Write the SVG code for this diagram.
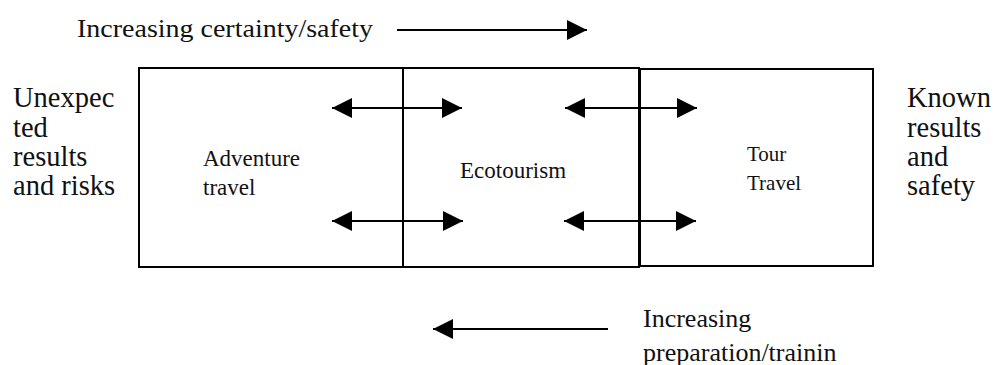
<svg xmlns="http://www.w3.org/2000/svg" width="994" height="365" viewBox="0 0 994 365">
  <style>
    text { font-family: "Liberation Serif", "Times New Roman", serif; fill: #111; }
    .lbl { font-size: 26px; }
    .side { font-size: 28.5px; }
    .box-lbl { font-size: 23px; }
    .box-sm { font-size: 21px; }
    .box { fill: #fff; stroke: #000; stroke-width: 2; }
    .arrow { stroke: #000; stroke-width: 2; fill: none; }
  </style>
  <defs>
    <marker id="head" viewBox="0 0 20 20" refX="20" refY="10" markerWidth="20" markerHeight="20" markerUnits="userSpaceOnUse" orient="auto-start-reverse">
      <path d="M0,0 L20,10 L0,20 Z" fill="#000"/>
    </marker>
  </defs>

  <!-- top direction label -->
  <g id="certainty">
    <text class="lbl" x="77" y="37" textLength="296" lengthAdjust="spacingAndGlyphs">Increasing certainty/safety</text>
  </g>

  <!-- side labels -->
  <g id="unexpected">
    <text class="side" x="13" y="107">Unexpec</text>
    <text class="side" x="13" y="136.5">ted</text>
    <text class="side" x="13" y="166">results</text>
    <text class="side" x="13" y="195">and risks</text>
  </g>
  <g id="known">
    <text class="side" x="907" y="107">Known</text>
    <text class="side" x="907" y="136.5">results</text>
    <text class="side" x="907" y="166">and</text>
    <text class="side" x="907" y="195">safety</text>
  </g>

  <!-- the three travel categories -->
  <g id="adventure">
    <rect class="box" x="139" y="68" width="264" height="199"/>
    <text class="box-lbl" x="203" y="166">Adventure</text>
    <text class="box-lbl" x="203" y="195">travel</text>
  </g>
  <g id="ecotourism">
    <rect class="box" x="403" y="68" width="236" height="199"/>
    <text class="box-lbl" x="460" y="178">Ecotourism</text>
  </g>
  <g id="tour">
    <rect class="box" x="640" y="69" width="233" height="197"/>
    <text class="box-sm" x="747" y="161">Tour</text>
    <text class="box-sm" x="747" y="190">Travel</text>
  </g>

  <!-- connectors -->
  <g id="connectors">
    <line class="arrow" x1="397" y1="30" x2="587" y2="30" marker-end="url(#head)"/>
    <line class="arrow" x1="332" y1="108" x2="462" y2="108" marker-start="url(#head)" marker-end="url(#head)"/>
    <line class="arrow" x1="332" y1="221" x2="463" y2="221" marker-start="url(#head)" marker-end="url(#head)"/>
    <line class="arrow" x1="565" y1="108" x2="697" y2="108" marker-start="url(#head)" marker-end="url(#head)"/>
    <line class="arrow" x1="564" y1="221" x2="696" y2="221" marker-start="url(#head)" marker-end="url(#head)"/>
    <line class="arrow" x1="608" y1="329" x2="433" y2="329" marker-end="url(#head)"/>
  </g>

  <!-- bottom direction label -->
  <g id="preparation">
    <text class="lbl" x="643" y="327">Increasing</text>
    <text class="lbl" x="643" y="361">preparation/trainin</text>
  </g>
</svg>
